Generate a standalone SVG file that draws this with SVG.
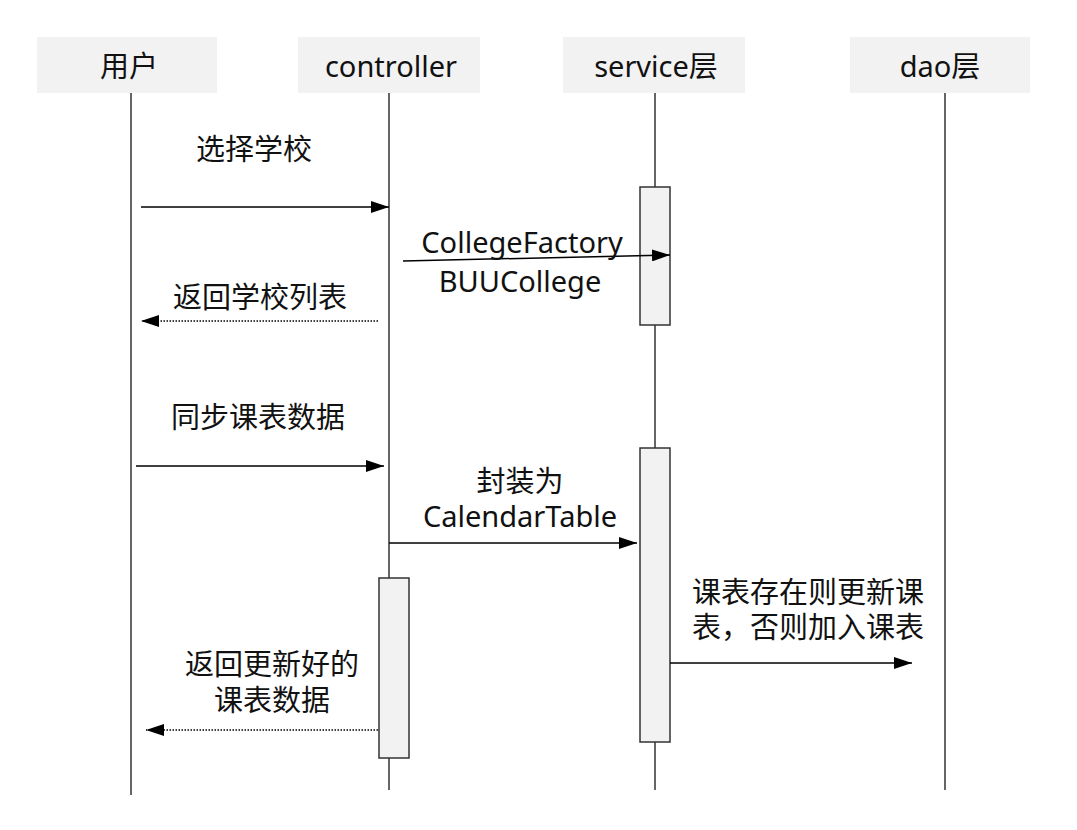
<svg xmlns="http://www.w3.org/2000/svg" width="1077" height="830" viewBox="0 0 1077 830">
<defs>
<marker id="ah" markerWidth="18" markerHeight="12" refX="18" refY="6" orient="auto" markerUnits="userSpaceOnUse">
<path d="M0,0 L18,6 L0,12 Z" fill="#000"/>
</marker>
</defs>
<style>
.hdr{fill:#f2f2f2;stroke:none}
.life{stroke:#333;stroke-width:1.5;fill:none}
.act{fill:#f2f2f2;stroke:#333;stroke-width:1.5}
.msg{stroke:#000;stroke-width:1.5;fill:none}
.ret{stroke:#000;stroke-width:1.5;fill:none;stroke-dasharray:1.5 1.5}
text{font-family:"Noto Sans","Noto Sans CJK SC",sans-serif;font-size:29px;fill:#111;text-anchor:middle}
</style>
<rect width="1077" height="830" fill="#fff"/>
<g id="user">
<rect class="hdr" x="37" y="37" width="180" height="56"/>
<text x="129" y="77">用户</text>
<line class="life" x1="131" y1="93" x2="131" y2="795"/>
</g>
<g id="controller">
<rect class="hdr" x="298" y="37" width="182" height="56"/>
<text x="391" y="77">controller</text>
<line class="life" x1="389" y1="93" x2="389" y2="790"/>
<rect class="act" x="379" y="578" width="30" height="180"/>
</g>
<g id="service">
<rect class="hdr" x="563" y="37" width="182" height="56"/>
<text x="656" y="77">service层</text>
<line class="life" x1="655" y1="93" x2="655" y2="790"/>
<rect class="act" x="640" y="187" width="30" height="138"/>
<rect class="act" x="640" y="448" width="30" height="294"/>
</g>
<g id="dao">
<rect class="hdr" x="850" y="37" width="180" height="56"/>
<text x="940" y="77">dao层</text>
<line class="life" x1="945" y1="93" x2="945" y2="790"/>
</g>
<g id="connectors">
<line class="msg" x1="141" y1="207" x2="389" y2="207" marker-end="url(#ah)"/>
<line class="msg" x1="403" y1="261" x2="670" y2="255" marker-end="url(#ah)"/>
<line class="ret" x1="378" y1="321" x2="141" y2="321" marker-end="url(#ah)"/>
<line class="msg" x1="136" y1="466" x2="384" y2="466" marker-end="url(#ah)"/>
<line class="msg" x1="389" y1="543" x2="637" y2="543" marker-end="url(#ah)"/>
<line class="msg" x1="670" y1="663" x2="912" y2="663" marker-end="url(#ah)"/>
<line class="ret" x1="378" y1="730" x2="146" y2="730" marker-end="url(#ah)"/>
</g>
<g id="labels">
<text x="254" y="160">选择学校</text>
<text x="522" y="253">CollegeFactory</text>
<text x="520" y="292">BUUCollege</text>
<text x="260" y="308">返回学校列表</text>
<text x="258" y="428">同步课表数据</text>
<text x="520" y="492">封装为</text>
<text x="520" y="527">CalendarTable</text>
<text x="808" y="603">课表存在则更新课</text>
<text x="808" y="638">表，否则加入课表</text>
<text x="272" y="675">返回更新好的</text>
<text x="272" y="711">课表数据</text>
</g>
</svg>
